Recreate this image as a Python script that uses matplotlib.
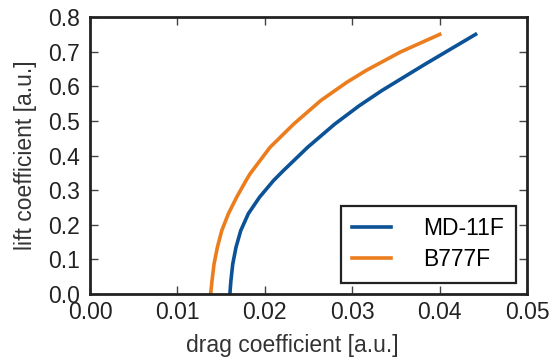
import matplotlib
matplotlib.use("Agg")
from matplotlib import pyplot as plt

plt.rcParams['font.family'] = ['Liberation Sans', 'DejaVu Sans']

# drag polars, lift coefficient vs drag coefficient
md11_cl = [0.0, 0.039, 0.087, 0.135, 0.183, 0.232, 0.280, 0.328, 0.356,
           0.424, 0.491, 0.544, 0.588, 0.665, 0.75]
md11_cd = [0.0160, 0.01612, 0.01633, 0.0167, 0.01724, 0.01811, 0.0194, 0.0210, 0.0221,
           0.0249, 0.0280, 0.0308, 0.0334, 0.0384, 0.0441]

b777_cl = [0.0, 0.039, 0.087, 0.135, 0.183, 0.232, 0.280, 0.328, 0.347,
           0.424, 0.491, 0.559, 0.612, 0.646, 0.699, 0.75]
b777_cd = [0.0138, 0.01396, 0.01419, 0.01457, 0.01507, 0.01583, 0.01678, 0.01785, 0.0183,
           0.0206, 0.0233, 0.0264, 0.0294, 0.0316, 0.0355, 0.0400]

x_ticks = [0.00, 0.01, 0.02, 0.03, 0.04, 0.05]
y_ticks = [0.0, 0.1, 0.2, 0.3, 0.4, 0.5, 0.6, 0.7, 0.8]

fig = plt.figure(figsize=(5.52, 3.63), dpi=100)
ax = fig.add_axes([0.163, 0.19, 0.792, 0.763])

ax.plot(md11_cd, md11_cl, color='#0b5296', lw=2.6, label='MD-11F')
ax.plot(b777_cd, b777_cl, color='#eb7d1e', lw=2.6, label='B777F')

ax.set_xlim(0, 0.05)
ax.set_ylim(0, 0.8)
ax.set_xticks(x_ticks)
ax.set_yticks(y_ticks)
ax.set_xticklabels(['%.2f' % v for v in x_ticks])
ax.set_yticklabels(['%.1f' % v for v in y_ticks])
ax.tick_params(direction='in', length=6, width=1, color='#444444',
               top=True, right=True, labelsize=16.5, labelcolor='#222222')
ax.tick_params(axis='x', pad=5)
ax.tick_params(axis='y', pad=7)
for s in ax.spines.values():
    s.set_linewidth(2)
    s.set_color('#222222')

ax.set_xlabel('drag coefficient [a.u.]', fontsize=16.5, color='#333333')
ax.set_ylabel('lift coefficient [a.u.]', fontsize=16.5, color='#333333', labelpad=8)
ax.xaxis.set_label_coords(0.463, -0.145)

leg = ax.legend(loc='lower right', fontsize=16.5, fancybox=False,
                edgecolor='#222222', framealpha=1, handlelength=1.7,
                borderpad=0.5, labelspacing=0.35, handletextpad=1.4,
                borderaxespad=0.5)
leg.get_frame().set_linewidth(1.6)

fig.savefig('out.png', dpi=100)
